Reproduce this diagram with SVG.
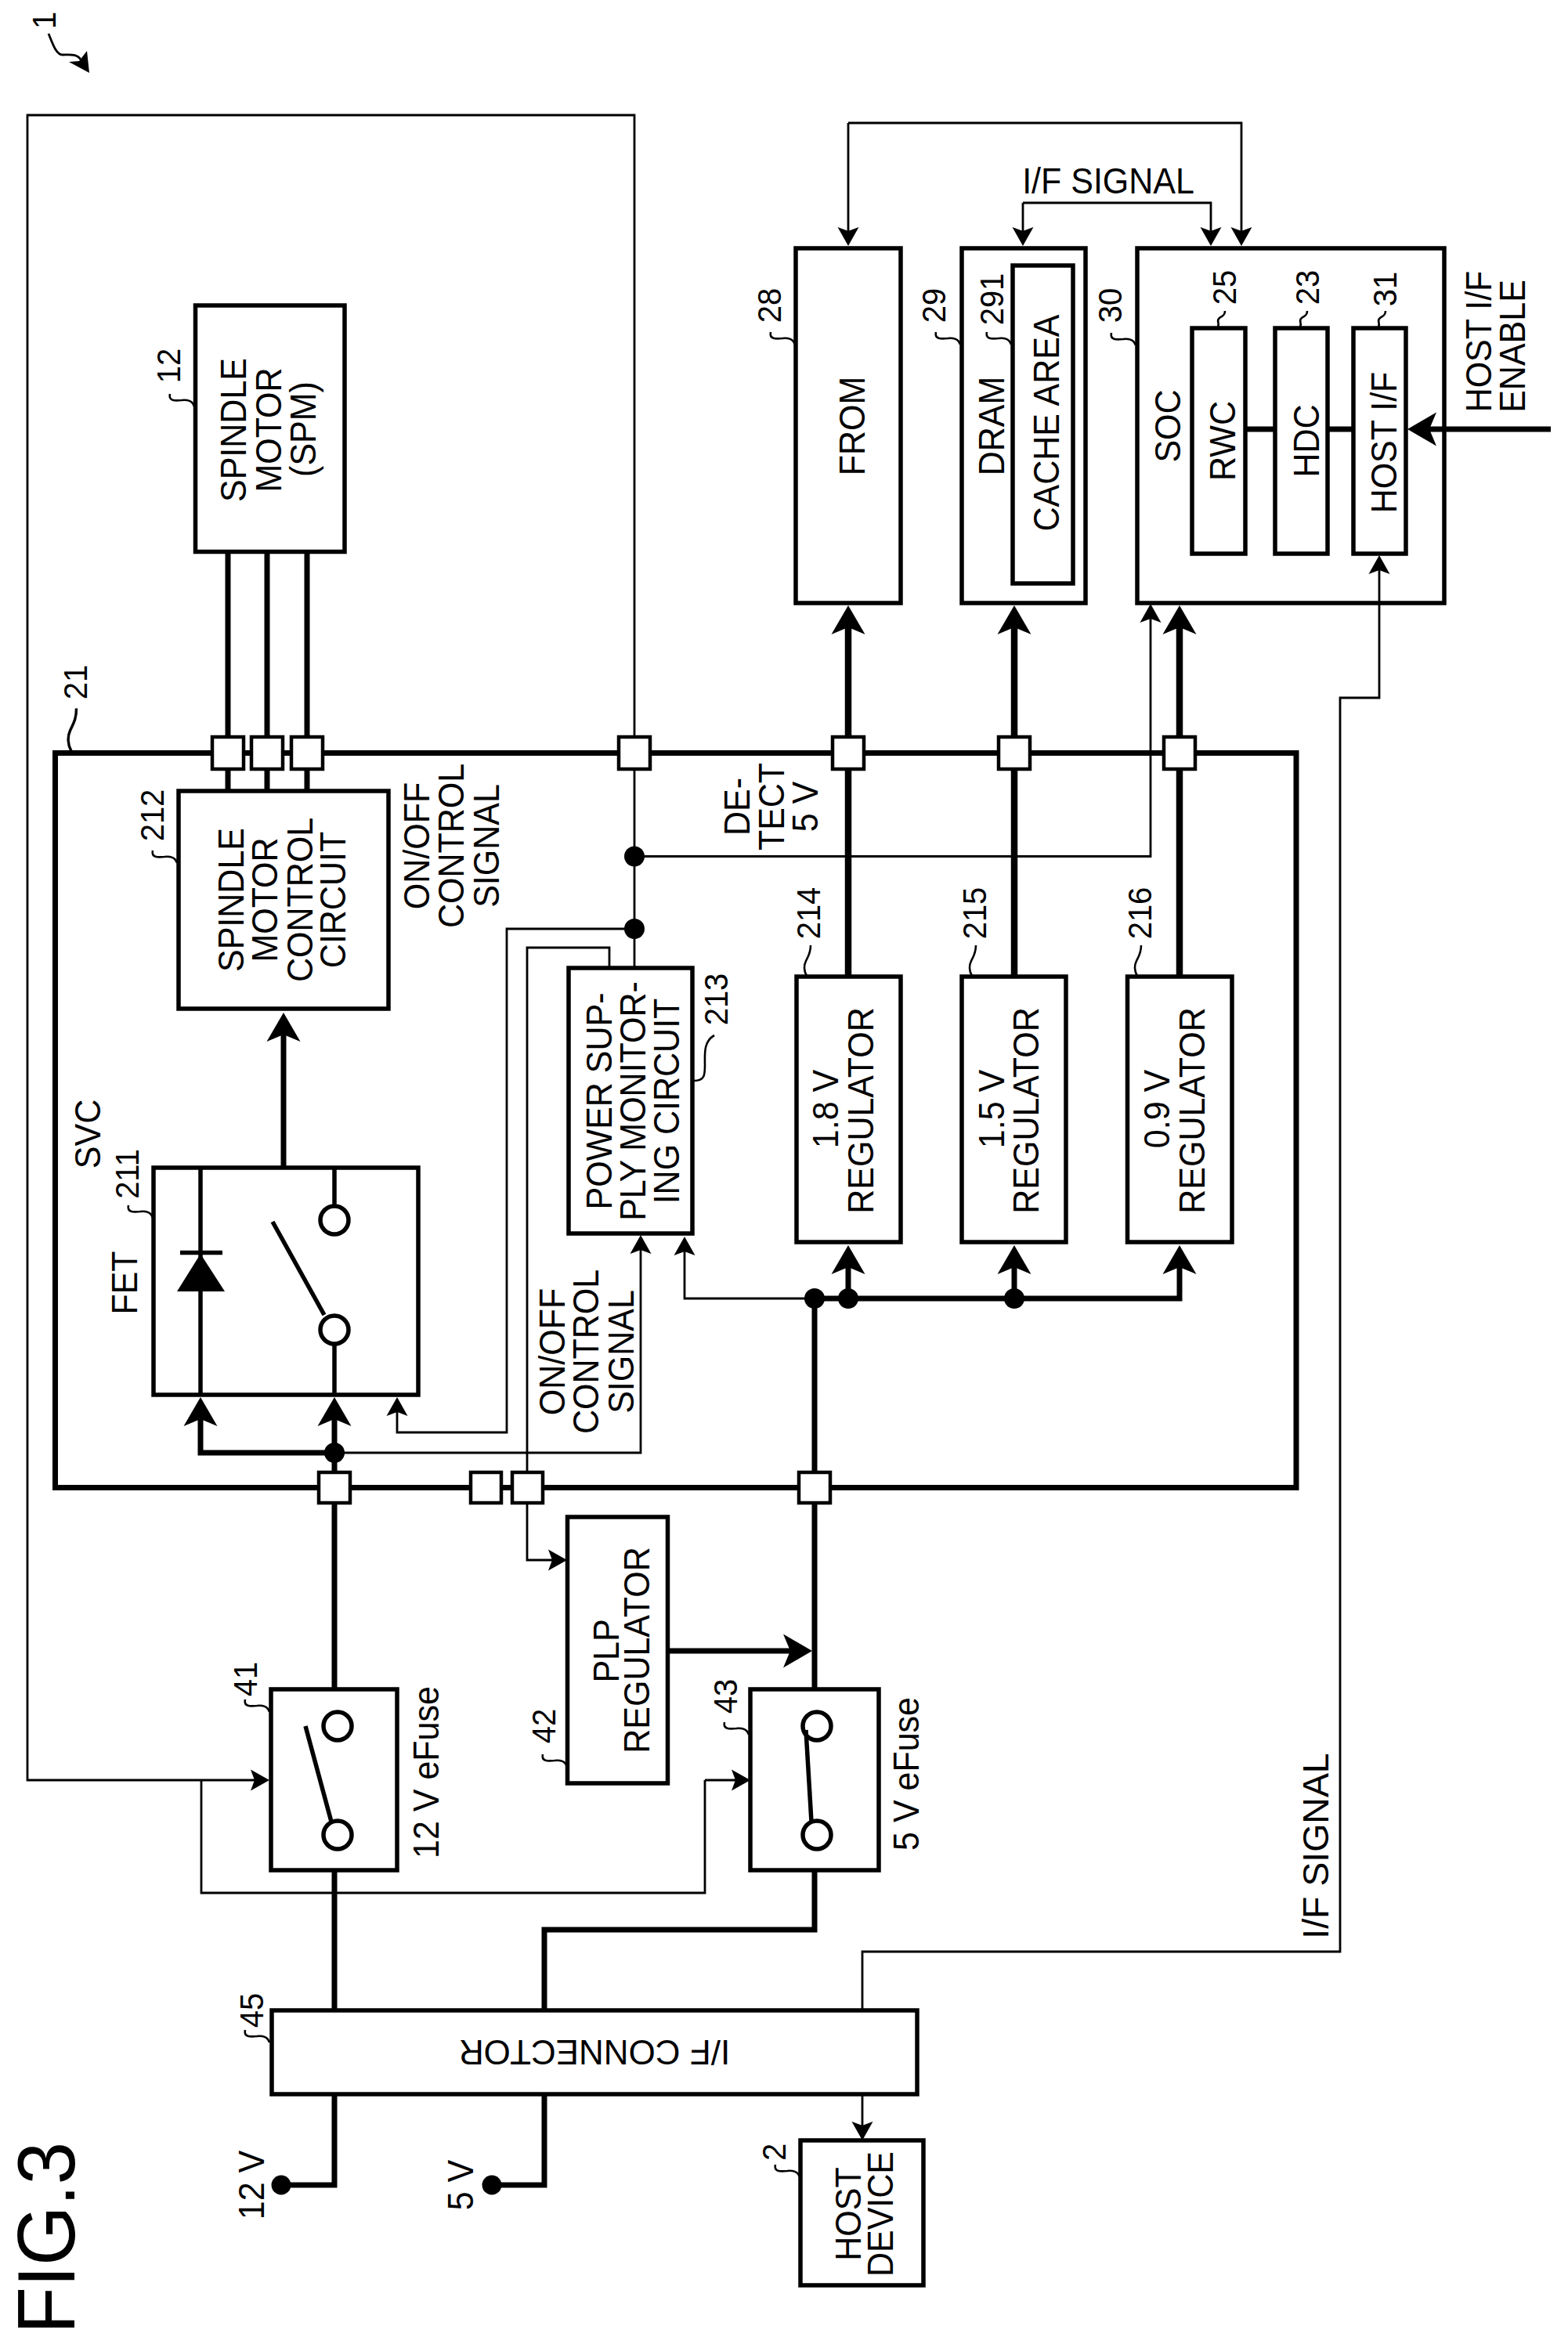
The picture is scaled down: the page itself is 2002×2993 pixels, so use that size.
<svg xmlns="http://www.w3.org/2000/svg" xmlns:xlink="http://www.w3.org/1999/xlink" width="2002" height="2993" viewBox="0 0 2002 2993">
<style>
text{font-family:"Liberation Sans",Arial,sans-serif;fill:#000;text-anchor:middle}
.t{font-size:43px}
.n{font-size:40px}
.box{fill:none;stroke:#000;stroke-width:5.5}
.port{fill:#fff;stroke:#000;stroke-width:4.5}
.svc{fill:none;stroke:#000;stroke-width:7}
.thin{fill:none;stroke:#000;stroke-width:2.8}
.thick{fill:none;stroke:#000;stroke-width:7}
.heavy{fill:none;stroke:#000;stroke-width:8.5}
.a{marker-end:url(#big)}
.s{marker-end:url(#small)}
.sq{fill:none;stroke:#000;stroke-width:2.6}
.sw{fill:none;stroke:#000;stroke-width:5.5}
.dot{fill:#000}
</style>
<defs>
<marker id="big" markerUnits="userSpaceOnUse" markerWidth="60" markerHeight="60" refX="30" refY="30" orient="auto" overflow="visible"><path d="M54 30L17 8.5L26 30L17 51.500Z" fill="#000"/></marker>
<marker id="small" markerUnits="userSpaceOnUse" markerWidth="40" markerHeight="40" refX="20" refY="20" orient="auto" overflow="visible"><path d="M34 20L10 6.500L15 20L10 33.500Z" fill="#000"/></marker>
<path id="sqh" class="sq" d="M0 0C-2 -7 -9 -9 -16 -8C-25 -7 -33 -7 -31 -16"/>
<path id="sqv" class="sq" d="M0 0C-4 -7 -4 -13 -1 -19C2 -25 5 -29 5 -39"/>
<path id="sqs" class="sq" d="M0 0C3 -5 -3 -7 2 -11C5 -13 9 -14 9 -20"/>
</defs>
<g id="connectors">
<path class="thin s" d="M810 1236V147H35V2273H330"/>
<path class="thin" d="M257 2273V2417H900V2273"/>
<path class="thin s" d="M900 2273H944"/>
<path class="thin s" d="M810 1093.500H1469V785"/>
<path class="thin s" d="M810 1186H647V1829H507V1798"/>
<path class="thin s" d="M427 1855H818V1591"/>
<path class="thin s" d="M778 1236V1210H673V1992H710"/>
<path class="thin s" d="M1040 1658H874V1593"/>
<path class="thin s" d="M1083 157H1585V300"/>
<path class="thin s" d="M1083 157V300"/>
<path class="thin s" d="M1306 259H1546V300"/>
<path class="thin s" d="M1306 259V300"/>
<path class="thin s" d="M1101 2567V2492H1711V891H1761V723"/>
<path class="thin s" d="M1101 2674V2719"/>
<path class="thick" d="M291 705V1010M341 705V1010M392 705V1010"/>
<path class="thick a" d="M362 1491V1317"/>
<path class="thick a" d="M427 1855V1808"/>
<path class="thick a" d="M427 1855H256V1808"/>
<path class="thick" d="M427 1855V2157M427 2388V2567M427 2674V2790H359"/>
<path class="thick" d="M1040 1658V2157M1040 2388V2464H695V2567M695 2674V2790H628"/>
<path class="thick a" d="M852 2108H1013"/>
<path class="heavy a" d="M1083 1247V797"/>
<path class="heavy a" d="M1295 1247V797"/>
<path class="heavy a" d="M1506 1247V797"/>
<path class="thick a" d="M1040 1658H1506V1614"/>
<path class="thick a" d="M1083 1658V1614"/>
<path class="thick a" d="M1295 1658V1614"/>
<path class="thick" d="M1590 548H1628M1695 548H1728"/>
<path class="thick a" d="M1980 548H1821"/>
<circle class="dot" cx="427" cy="1855" r="13"/>
<circle class="dot" cx="810" cy="1093.500" r="13"/>
<circle class="dot" cx="810" cy="1186" r="13"/>
<circle class="dot" cx="1040" cy="1658" r="13"/>
<circle class="dot" cx="1083" cy="1658" r="13"/>
<circle class="dot" cx="1295" cy="1658" r="13"/>
<circle class="dot" cx="359" cy="2790" r="12.500"/>
<circle class="dot" cx="628" cy="2790" r="12.500"/>
</g>
<g id="ref-1">
<text class="n" transform="translate(71 37) rotate(-90) scale(1 1.07)" style="text-anchor:start">1</text>
<path class="thin" d="M62 43C68 58 72 70 80 70C88 70 98 68 103 76"/>
<path d="M114 93L111 65L101 78L88 79Z" fill="#000"/>
</g>
<g id="fig-label"><text transform="translate(95 2980) rotate(-90) scale(0.98 1.03)" style="font-size:100px;text-anchor:start">FIG.3</text></g>
<g id="svc">
<rect class="svc" x="70.500" y="961.500" width="1584.500" height="938"/>
<text class="n" transform="translate(111 871) rotate(-90) scale(1 1.07)">21</text>
<use xlink:href="#sqv" href="#sqv" x="0" y="0" transform="translate(91 959) scale(1.300 1.400)"/>
<text class="t" transform="translate(128 1448) rotate(-90) scale(1 1.07)">SVC</text>
</g>
<g id="n12">
<rect class="box" x="249.500" y="390" width="190.500" height="314.500"/>
<text class="t" transform="translate(314 549) rotate(-90) scale(1 1.07)">SPINDLE</text>
<text class="t" transform="translate(359 549) rotate(-90) scale(1 1.07)">MOTOR</text>
<text class="t" transform="translate(403 548) rotate(-90) scale(1 1.07)">(SPM)</text>
<text class="n" transform="translate(230 467) rotate(-90) scale(1 1.07)">12</text>
<use xlink:href="#sqh" href="#sqh" x="248" y="519"/>
</g>
<g id="n212">
<rect class="box" x="228" y="1010" width="268" height="278"/>
<text class="t" transform="translate(311 1149) rotate(-90) scale(1 1.07)">SPINDLE</text>
<text class="t" transform="translate(354 1149) rotate(-90) scale(1 1.07)">MOTOR</text>
<text class="t" transform="translate(399 1149) rotate(-90) scale(1 1.07)">CONTROL</text>
<text class="t" transform="translate(441 1149) rotate(-90) scale(1 1.07)">CIRCUIT</text>
<text class="n" transform="translate(209 1041) rotate(-90) scale(1 1.07)">212</text>
<use xlink:href="#sqh" href="#sqh" x="226" y="1102"/>
</g>
<g id="label-onoff-upper">
<text class="t" transform="translate(548 1080) rotate(-90) scale(1 1.07)">ON/OFF</text>
<text class="t" transform="translate(592 1080) rotate(-90) scale(1 1.07)">CONTROL</text>
<text class="t" transform="translate(636.500 1080) rotate(-90) scale(1 1.07)">SIGNAL</text>
</g>
<g id="n211">
<rect class="box" x="196" y="1491" width="338" height="290"/>
<path class="sw" d="M256 1491V1781M230 1599.500H284"/>
<path d="M256 1601L287 1649H226Z" fill="#000"/>
<path class="sw" d="M427 1491V1539M427 1717V1781M348 1560L414 1679"/>
<circle class="sw" cx="427" cy="1558" r="18"/>
<circle class="sw" cx="427" cy="1698" r="18"/>
<text class="t" transform="translate(175 1638) rotate(-90) scale(1 1.07)">FET</text>
<text class="n" transform="translate(177 1499) rotate(-90) scale(1 1.07)">211</text>
<use xlink:href="#sqh" href="#sqh" x="195" y="1555"/>
</g>
<g id="n213">
<rect class="box" x="726" y="1236" width="158" height="339"/>
<text class="t" transform="translate(781 1406) rotate(-90) scale(1 1.07)">POWER SUP-</text>
<text class="t" transform="translate(824 1406) rotate(-90) scale(1 1.07)">PLY MONITOR-</text>
<text class="t" transform="translate(867 1406) rotate(-90) scale(1 1.07)">ING CIRCUIT</text>
<text class="n" transform="translate(929 1276) rotate(-90) scale(1 1.07)">213</text>
<path class="sq" d="M886 1380C900 1380 900 1372 900 1360C900 1346 898 1330 912 1322"/>
</g>
<g id="label-onoff-lower">
<text class="t" transform="translate(721 1726) rotate(-90) scale(1 1.07)">ON/OFF</text>
<text class="t" transform="translate(764 1726) rotate(-90) scale(1 1.07)">CONTROL</text>
<text class="t" transform="translate(809 1726) rotate(-90) scale(1 1.07)">SIGNAL</text>
</g>
<g id="label-detect">
<text class="t" transform="translate(957 1030) rotate(-90) scale(1 1.07)">DE-</text>
<text class="t" transform="translate(1001 1030) rotate(-90) scale(1 1.07)">TECT</text>
<text class="t" transform="translate(1044 1030) rotate(-90) scale(1 1.07)">5 V</text>
</g>
<g id="n214">
<rect class="box" x="1017" y="1247" width="133" height="339"/>
<text class="t" transform="translate(1070 1416) rotate(-90) scale(1 1.07)">1.8 V</text>
<text class="t" transform="translate(1115 1418) rotate(-90) scale(1 1.07)">REGULATOR</text>
<text class="n" transform="translate(1047 1166) rotate(-90) scale(1 1.07)">214</text>
<use xlink:href="#sqv" href="#sqv" x="1030" y="1246"/>
</g>
<g id="n215">
<rect class="box" x="1228" y="1247" width="133" height="339"/>
<text class="t" transform="translate(1282 1416) rotate(-90) scale(1 1.07)">1.5 V</text>
<text class="t" transform="translate(1326 1418) rotate(-90) scale(1 1.07)">REGULATOR</text>
<text class="n" transform="translate(1259 1166) rotate(-90) scale(1 1.07)">215</text>
<use xlink:href="#sqv" href="#sqv" x="1241" y="1246"/>
</g>
<g id="n216">
<rect class="box" x="1439.500" y="1247" width="133.500" height="339"/>
<text class="t" transform="translate(1493 1416) rotate(-90) scale(1 1.07)">0.9 V</text>
<text class="t" transform="translate(1538 1418) rotate(-90) scale(1 1.07)">REGULATOR</text>
<text class="n" transform="translate(1470 1166) rotate(-90) scale(1 1.07)">216</text>
<use xlink:href="#sqv" href="#sqv" x="1452" y="1246"/>
</g>
<g id="n28">
<rect class="box" x="1016" y="317" width="134" height="453"/>
<text class="t" transform="translate(1104 544) rotate(-90) scale(1 1.07)">FROM</text>
<text class="n" transform="translate(997 390) rotate(-90) scale(1 1.07)">28</text>
<use xlink:href="#sqh" href="#sqh" x="1015" y="440"/>
</g>
<g id="n29">
<rect class="box" x="1228" y="317" width="158" height="453"/>
<text class="t" transform="translate(1282 544) rotate(-90) scale(1 1.07)">DRAM</text>
<text class="n" transform="translate(1207 390) rotate(-90) scale(1 1.07)">29</text>
<use xlink:href="#sqh" href="#sqh" x="1226" y="440"/>
<g id="n291">
<rect class="box" x="1293" y="339" width="77" height="406"/>
<text class="t" transform="translate(1352 540) rotate(-90) scale(1 1.07)">CACHE AREA</text>
<text class="n" transform="translate(1281 382) rotate(-90) scale(1 1.07)">291</text>
<use xlink:href="#sqh" href="#sqh" x="1291" y="440"/>
</g>
</g>
<g id="n30">
<rect class="box" x="1452" y="317" width="392" height="453"/>
<text class="t" transform="translate(1507 544) rotate(-90) scale(1 1.07)">SOC</text>
<text class="n" transform="translate(1432 390) rotate(-90) scale(1 1.07)">30</text>
<use xlink:href="#sqh" href="#sqh" x="1450" y="441"/>
</g>
<g id="n25">
<rect class="box" x="1522" y="419" width="68" height="288"/>
<text class="t" transform="translate(1577 563) rotate(-90) scale(1 1.07)">RWC</text>
<text class="n" transform="translate(1578 367) rotate(-90) scale(1 1.07)">25</text>
<use xlink:href="#sqs" href="#sqs" x="1555" y="417"/>
</g>
<g id="n23">
<rect class="box" x="1628" y="419" width="67" height="288"/>
<text class="t" transform="translate(1684 563) rotate(-90) scale(1 1.07)">HDC</text>
<text class="n" transform="translate(1684 367) rotate(-90) scale(1 1.07)">23</text>
<use xlink:href="#sqs" href="#sqs" x="1660" y="417"/>
</g>
<g id="n31">
<rect class="box" x="1728" y="419" width="67" height="288"/>
<text class="t" transform="translate(1782.500 565) rotate(-90) scale(1 1.07)">HOST I/F</text>
<text class="n" transform="translate(1783 369) rotate(-90) scale(1 1.07)">31</text>
<use xlink:href="#sqs" href="#sqs" x="1760" y="417"/>
</g>
<g id="labels">
<text class="t" transform="translate(1415 247) scale(1 1.07)">I/F SIGNAL</text>
<text class="t" transform="translate(1904 436) rotate(-90) scale(1 1.07)">HOST I/F</text>
<text class="t" transform="translate(1947 442) rotate(-90) scale(1 1.07)">ENABLE</text>
<text class="t" transform="translate(1696 2357) rotate(-90) scale(1.08 1.07)">I/F SIGNAL</text>
<text class="t" transform="translate(337 2790) rotate(-90) scale(1 1.07)">12 V</text>
<text class="t" transform="translate(604 2790) rotate(-90) scale(1 1.07)">5 V</text>
</g>
<g id="n42">
<rect class="box" x="724.500" y="1937" width="128" height="340"/>
<text class="t" transform="translate(790 2108) rotate(-90) scale(1 1.07)">PLP</text>
<text class="t" transform="translate(829 2107) rotate(-90) scale(1 1.07)">REGULATOR</text>
<text class="n" transform="translate(709 2204) rotate(-90) scale(1 1.07)">42</text>
<use xlink:href="#sqh" href="#sqh" x="724" y="2256"/>
</g>
<g id="n41">
<rect class="box" x="346" y="2157" width="161" height="231"/>
<path class="sw" d="M390 2204L423 2326"/>
<circle class="sw" cx="431" cy="2204" r="18"/>
<circle class="sw" cx="431" cy="2343" r="18"/>
<text class="t" transform="translate(560 2263) rotate(-90) scale(1 1.07)">12 V eFuse</text>
<text class="n" transform="translate(327.500 2144) rotate(-90) scale(1 1.07)">41</text>
<use xlink:href="#sqh" href="#sqh" x="344" y="2186"/>
</g>
<g id="n43">
<rect class="box" x="958" y="2157" width="164" height="231"/>
<path class="sw" d="M1029 2209L1036 2326"/>
<circle class="sw" cx="1043" cy="2204" r="18"/>
<circle class="sw" cx="1043" cy="2343" r="18"/>
<text class="t" transform="translate(1173 2265) rotate(-90) scale(1 1.07)">5 V eFuse</text>
<text class="n" transform="translate(941 2166) rotate(-90) scale(1 1.07)">43</text>
<use xlink:href="#sqh" href="#sqh" x="956" y="2215"/>
</g>
<g id="n45">
<rect class="box" x="347" y="2567" width="824" height="107"/>
<text class="t" style="font-size:44px" transform="translate(759 2605) rotate(180)">I/F CONNECTOR</text>
<text class="n" transform="translate(336 2567) rotate(-90) scale(1 1.07)">45</text>
<use xlink:href="#sqh" href="#sqh" x="344" y="2608"/>
</g>
<g id="n2">
<rect class="box" x="1022" y="2733" width="157" height="185"/>
<text class="t" transform="translate(1099 2827) rotate(-90) scale(1 1.07)">HOST</text>
<text class="t" transform="translate(1140 2827) rotate(-90) scale(1 1.07)">DEVICE</text>
<text class="n" transform="translate(1003 2748) rotate(-90) scale(1 1.07)">2</text>
<use xlink:href="#sqh" href="#sqh" x="1021" y="2780"/>
</g>
<g id="ports">
<rect class="port" x="271" y="941" width="40" height="41"/>
<rect class="port" x="321" y="941" width="40" height="41"/>
<rect class="port" x="372" y="941" width="40" height="41"/>
<rect class="port" x="790" y="941" width="40" height="41"/>
<rect class="port" x="1063" y="941" width="40" height="41"/>
<rect class="port" x="1275" y="941" width="40" height="41"/>
<rect class="port" x="1486" y="941" width="40" height="41"/>
<rect class="port" x="407" y="1880" width="40" height="39"/>
<rect class="port" x="601" y="1880" width="39" height="39"/>
<rect class="port" x="654" y="1880" width="39" height="39"/>
<rect class="port" x="1020" y="1880" width="40" height="39"/>
</g>
</svg>
